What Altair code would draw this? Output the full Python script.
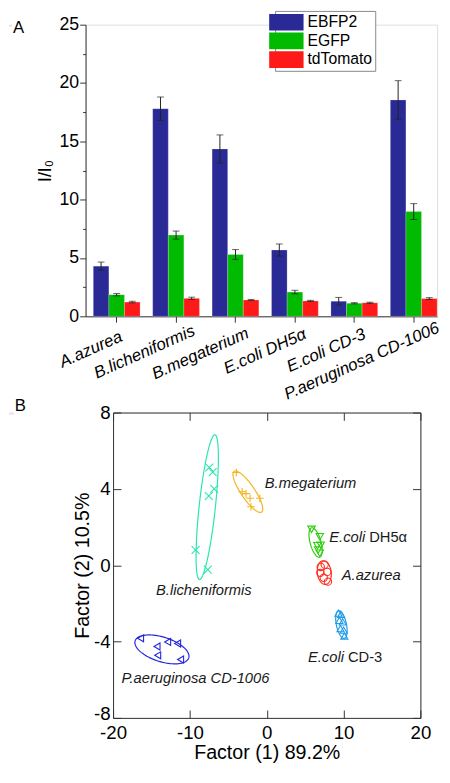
import altair as alt
import pandas as pd
import numpy as np

FONT = "Liberation Sans"

# ---------------- Panel A data ----------------
strains = ["A.azurea", "B.licheniformis", "B.megaterium", "E.coli DH5α", "E.coli CD-3", "P.aeruginosa CD-1006"]
proteins = ["EBFP2", "EGFP", "tdTomato"]
ebfp2 = [4.3, 17.8, 14.35, 5.68, 1.29, 18.55]
ebfp2_err = [0.35, 1.0, 1.2, 0.52, 0.33, 1.65]
egfp = [1.85, 6.96, 5.3, 2.08, 1.12, 8.98]
egfp_err = [0.1, 0.35, 0.42, 0.15, 0.05, 0.68]
tdtomato = [1.22, 1.54, 1.4, 1.32, 1.16, 1.52]
tdtomato_err = [0.07, 0.1, 0.05, 0.05, 0.05, 0.08]
bar_colors = ["#2a2a96", "#00bb00", "#ff1a1a"]
y_major = [0, 5, 10, 15, 20, 25]
y_minor = [2.5, 7.5, 12.5, 17.5, 22.5]

# ---------------- Panel B data ----------------
groups = ["B.licheniformis", "B.megaterium", "E.coli DH5α", "A.azurea", "E.coli CD-3", "P.aeruginosa CD-1006"]
group_colors = ["#28e6b0", "#f5b41e", "#2ccf0c", "#ff2c1c", "#1e9be8", "#2424e0"]
group_shapes = ["M-1,-1L1,1M-1,1L1,-1", "M-1,0L1,0M0,-1L0,1", "triangle-down", "circle", "triangle-up", "triangle-left"]
group_sizes = [64, 50, 45, 30, 45, 45]

blich_f1 = [-7.47, -7.03, -6.83, -7.54, -9.26, -7.67]
blich_f2 = [5.12, 4.88, 4.0, 3.63, 0.80, -0.23]
bmeg_f1 = [-3.96, -3.2, -2.69, -2.17, -0.9, -2.05]
bmeg_f2 = [4.86, 3.85, 3.75, 3.51, 3.51, 3.06]
dh5a_f1 = [5.83, 6.9, 6.6, 7.03, 6.69, 6.9]
dh5a_f2 = [1.88, 1.49, 1.02, 1.05, 0.8, 0.63]
azur_f1 = [7.03, 7.54, 6.98, 7.88, 7.42, 7.97]
azur_f2 = [-0.09, 0.03, -0.4, -0.35, -0.66, -0.86]
cd3_f1 = [9.34, 9.67, 9.46, 9.88, 9.6, 10.01, 10.1]
cd3_f2 = [-2.51, -2.58, -2.89, -2.97, -3.32, -3.4, -3.71]
pae_f1 = [-16.42, -14.28, -14.19, -12.9, -11.6, -11.21]
pae_f2 = [-3.83, -4.26, -4.72, -4.02, -4.1, -4.94]

# confidence ellipses: centre, half-axis vector u, half-axis vector v
ell_center = [(-7.745, 3.045), (-2.455, 3.853), (6.36, 1.19), (7.49, -0.386), (9.72, -3.11), (-13.64, -4.41)]
ell_u = [(1.005, 3.795), (1.79, -1.067), (0.531, -0.772), (0.19, -0.617), (0.384, -0.72), (3.49, -0.448)]
ell_v = [(1.05, -0.05), (0.743, 0.2017), (0.678, 0.0756), (0.895, 0.046), (0.64, 0.051), (0.486, 0.612)]

# annotations
lab_italic_left = ["B.megaterium", "A.azurea", "B.licheniformis", "P.aeruginosa CD-1006"]
lab_italic_left_x = [-0.26, 9.76, -14.41, -18.89]
lab_italic_left_y = [4.28, -0.53, -1.3, -5.93]
lab_italic_right = ["E.coli", "E.coli"]
lab_normal_left = ["DH5α", "CD-3"]
lab_split_x = [12.95, 10.18]
lab_split_y = [1.45, -4.83]

# ---------------- build tables ----------------
rows = []
for i, s in enumerate(strains):
    for p, vals, errs in zip(proteins, [ebfp2, egfp, tdtomato], [ebfp2_err, egfp_err, tdtomato_err]):
        rows.append(dict(strain=s, protein=p, value=vals[i], lo=vals[i] - errs[i], hi=vals[i] + errs[i]))
df_a = pd.DataFrame(rows)

pt_rows = []
for g, f1s, f2s in zip(groups, [blich_f1, bmeg_f1, dh5a_f1, azur_f1, cd3_f1, pae_f1],
                       [blich_f2, bmeg_f2, dh5a_f2, azur_f2, cd3_f2, pae_f2]):
    for a, b in zip(f1s, f2s):
        pt_rows.append(dict(group=g, f1=a, f2=b))
df_pts = pd.DataFrame(pt_rows)

t = np.linspace(0, 2 * np.pi, 91)
el_rows = []
for g, c, u, v in zip(groups, ell_center, ell_u, ell_v):
    for k, tt in enumerate(t):
        el_rows.append(dict(group=g, idx=k,
                            f1=c[0] + np.cos(tt) * u[0] + np.sin(tt) * v[0],
                            f2=c[1] + np.cos(tt) * u[1] + np.sin(tt) * v[1]))
df_ell = pd.DataFrame(el_rows)

df_til = pd.DataFrame(dict(t=lab_italic_left, x=lab_italic_left_x, y=lab_italic_left_y))
df_tir = pd.DataFrame(dict(t=lab_italic_right, x=lab_split_x, y=lab_split_y))
df_tnl = pd.DataFrame(dict(t=lab_normal_left, x=lab_split_x, y=lab_split_y))

AX = "#333333"

# ---------------- Panel A ----------------
# rotated labels are anchored partway along the text, as in the original software
SHIFT = "min(2.1*length(datum.value) - 15, 24)"
xA_scale = alt.Scale(paddingInner=0.213, paddingOuter=0.065, align=1)
xA = alt.X("strain:N", sort=strains, title=None, scale=xA_scale,
           axis=alt.Axis(labelAngle=336, labelAlign="right", labelBaseline="top",
                         labelFont=FONT, labelFontStyle="italic", labelFontSize=17,
                         labelColor="black", tickSize=6, labelLimit=300,
                         labelOffset=alt.ExprRef(expr=f"0.9135*{SHIFT}"),
                         labelPadding=alt.ExprRef(expr=f"7 - 0.4067*{SHIFT}"),
                         domainColor=AX, tickColor=AX, grid=False))
xA_plain = alt.X("strain:N", sort=strains, scale=xA_scale)
xoff = alt.XOffset("protein:N", sort=proteins, scale=alt.Scale(paddingInner=0, paddingOuter=0))
yA_scale = alt.Scale(domain=[0, 25], nice=False)

bars = alt.Chart(df_a).mark_bar(stroke="white", strokeWidth=0.6, strokeOpacity=0.35).encode(
    x=xA, xOffset=xoff,
    y=alt.Y("value:Q", scale=yA_scale,
            axis=alt.Axis(values=y_major, title="I/I₀", titleFont=FONT, titleFontSize=18,
                          titleFontWeight="normal", titleColor="black", titlePadding=5,
                          labelFont=FONT, labelFontSize=18, labelColor="black", labelPadding=1,
                          labelFlush=False, tickSize=6, domainColor=AX, tickColor=AX, grid=False)),
    color=alt.Color("protein:N", sort=proteins,
                    scale=alt.Scale(domain=proteins, range=bar_colors),
                    legend=alt.Legend(title=None, orient="none", legendX=271, legendY=-14,
                                      symbolType="M-2.06,-1L2.06,-1L2.06,1L-2.06,1Z",
                                      symbolSize=289, symbolStrokeWidth=0, symbolOpacity=1,
                                      labelFont=FONT, labelFontSize=16, labelColor="black",
                                      labelOffset=13, rowPadding=2, padding=3,
                                      strokeColor="#888888", fillColor="white")),
)

err = alt.Chart(df_a).mark_rule(color="#222222", strokeWidth=1).encode(
    x=xA_plain, xOffset=xoff,
    y=alt.Y("lo:Q", scale=yA_scale,
            axis=alt.Axis(orient="left", values=y_minor, labels=False, domain=False, title=None,
                          tickSize=3, tickColor=AX, grid=False)),
    y2="hi:Q",
)
cap_lo = alt.Chart(df_a).mark_tick(color="#222222", size=7, thickness=1).encode(
    x=xA_plain, xOffset=xoff, y=alt.Y("lo:Q", scale=yA_scale, axis=None))
cap_hi = alt.Chart(df_a).mark_tick(color="#222222", size=7, thickness=1).encode(
    x=xA_plain, xOffset=xoff, y=alt.Y("hi:Q", scale=yA_scale, axis=None))

lbl_a = alt.Chart(pd.DataFrame({"t": ["A"]})).mark_text(
    font=FONT, fontSize=17, align="left", baseline="alphabetic", color="black"
).encode(x=alt.value(-74), y=alt.value(8), text="t:N")

panel_a = alt.layer(bars, err, cap_lo, cap_hi, lbl_a).resolve_axis(y="independent").properties(
    width=358, height=297)

# ---------------- Panel B ----------------
xB_scale = alt.Scale(domain=[-20, 20], nice=False)
yB_scale = alt.Scale(domain=[-8, 8], nice=False)
INWARD = {"expr": "-8"}
common_ax = dict(domainColor=AX, tickColor=AX, grid=False, tickSize=INWARD, labelFlush=False)

color_enc = alt.Color("group:N", scale=alt.Scale(domain=groups, range=group_colors), legend=None)

ell = alt.Chart(df_ell).mark_line(strokeWidth=1.2).encode(
    x=alt.X("f1:Q", scale=xB_scale,
            axis=alt.Axis(orient="top", values=[-20, -10, 0, 10, 20], labels=False, title=None, **common_ax)),
    y=alt.Y("f2:Q", scale=yB_scale,
            axis=alt.Axis(orient="right", values=[-8, -4, 0, 4, 8], labels=False, title=None, **common_ax)),
    color=color_enc, detail="group:N", order="idx:Q",
)

pts = alt.Chart(df_pts).mark_point(filled=False, strokeWidth=1.1, opacity=1).encode(
    x=alt.X("f1:Q", scale=xB_scale,
            axis=alt.Axis(orient="bottom", values=[-20, -10, 0, 10, 20], title="Factor (1) 89.2%",
                          labelExpr="'' + datum.value", labelFont=FONT, labelFontSize=19,
                          labelColor="black", labelPadding=14, titleFont=FONT, titleFontSize=20,
                          titleFontWeight="normal", titleColor="black", titlePadding=0, **common_ax)),
    y=alt.Y("f2:Q", scale=yB_scale,
            axis=alt.Axis(orient="left", values=[-8, -4, 0, 4, 8], title="Factor (2) 10.5%",
                          labelExpr="'' + datum.value", labelFont=FONT, labelFontSize=19,
                          labelColor="black", labelPadding=11, titleFont=FONT, titleFontSize=20,
                          labelOffset=alt.ExprRef(expr="datum.value == -8 ? -4 : 0"),
                          titleFontWeight="normal", titleColor="black", titlePadding=1, **common_ax)),
    color=color_enc,
    shape=alt.Shape("group:N", scale=alt.Scale(domain=groups, range=group_shapes), legend=None),
    size=alt.Size("group:N", scale=alt.Scale(domain=groups, range=group_sizes), legend=None),
)


def txt(df, style, align, dx):
    return alt.Chart(df).mark_text(font=FONT, fontSize=15, fontStyle=style, align=align,
                                   baseline="middle", color="#1a1a1a", dx=dx).encode(
        x=alt.X("x:Q", scale=xB_scale, axis=None),
        y=alt.Y("y:Q", scale=yB_scale, axis=None),
        text="t:N")


t_il = txt(df_til, "italic", "left", 0)
t_ir = txt(df_tir, "italic", "right", -1)
t_nl = txt(df_tnl, "normal", "left", 3)

lbl_b = alt.Chart(pd.DataFrame({"t": ["B"]})).mark_text(
    font=FONT, fontSize=17, align="left", baseline="alphabetic", color="black"
).encode(x=alt.value(-100), y=alt.value(-2), text="t:N")

panel_b = alt.layer(ell, pts, t_il, t_ir, t_nl, lbl_b).resolve_axis(
    x="independent", y="independent").properties(width=313, height=311)


def spacer(w):
    return alt.Chart(pd.DataFrame({"a": [0]})).mark_rule(opacity=0).encode(
        x=alt.value(1), y=alt.value(0), y2=alt.value(1)).properties(width=w, height=1)


chart = alt.vconcat(
    alt.hconcat(spacer(2), panel_a, spacing=0),
    alt.hconcat(spacer(4), panel_b, spacing=0),
    spacing=-7,
).resolve_scale(color="independent", shape="independent", size="independent").properties(
    padding={"left": 0, "top": -5, "right": 0, "bottom": -3}).configure_view(
    stroke=None).configure(font=FONT)

chart.save("out.html", embed_options={"renderer": "svg", "actions": False})
